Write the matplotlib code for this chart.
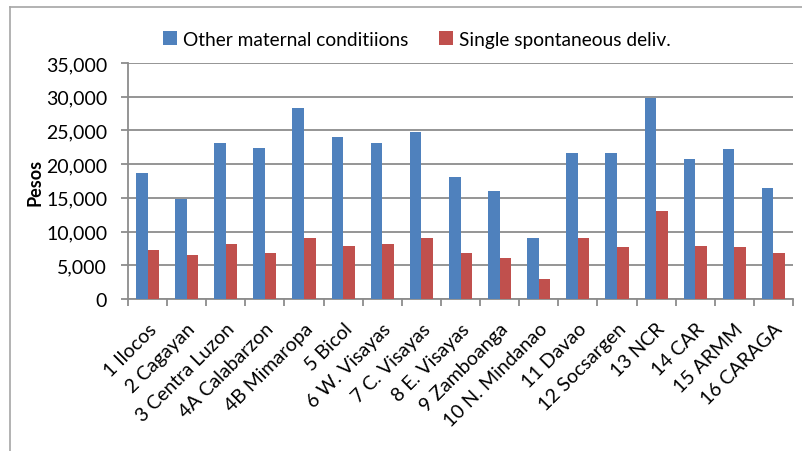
import numpy as np
import matplotlib as mpl
mpl.use('Agg')
import matplotlib.pyplot as plt
import matplotlib.ticker as ticker
from matplotlib.lines import Line2D

regions = ['1 Ilocos', '2 Cagayan', '3 Centra Luzon', '4A Calabarzon', '4B Mimaropa',
           '5 Bicol', '6 W. Visayas', '7 C. Visayas', '8 E. Visayas', '9 Zamboanga',
           '10 N. Mindanao', '11 Davao', '12 Socsargen', '13 NCR', '14 CAR',
           '15 ARMM', '16 CARAGA']
other_maternal = [18700, 14800, 23100, 22400, 28400, 24000, 23100, 24700, 18050,
                  16000, 9050, 21700, 21700, 29800, 20800, 22250, 16400]
single_spont = [7200, 6500, 8100, 6800, 9050, 7900, 8100, 9050, 6800,
                6100, 2900, 9050, 7700, 13000, 7900, 7700, 6800]

plt.rcParams['font.family'] = ['Lato', 'DejaVu Sans']

fig = plt.figure(figsize=(8.02, 4.52), dpi=100)
ax = fig.add_axes([128/802, 1 - 300/452, (793 - 128)/802, (300 - 64)/452])

# outer chart frame (only top/left edges are visible in the crop)
top = 1 - 8/452
left = 10/802
fig.lines.append(Line2D([left, 1.0], [top, top], transform=fig.transFigure,
                        color='#a6a6a6', lw=1.2))
fig.lines.append(Line2D([left, left], [0, top], transform=fig.transFigure,
                        color='#a6a6a6', lw=1.2))

x = np.arange(len(regions))
w = 0.295
ax.bar(x - w/2, other_maternal, w, color='#4f81bd', label='Other maternal conditiions', zorder=3)
ax.bar(x + w/2, single_spont, w, color='#c0504d', label='Single spontaneous deliv.', zorder=3)

ax.set_xlim(-0.5, len(regions) - 0.5)
ax.set_ylim(0, 35000)
ax.yaxis.set_major_locator(ticker.MultipleLocator(5000))
ax.yaxis.set_major_formatter(ticker.FuncFormatter(lambda v, p: '{:,.0f}'.format(v)))
ax.yaxis.grid(True, color='#8c8c8c', lw=1.3, zorder=0)
ax.set_axisbelow(True)

for s in ['top', 'right']:
    ax.spines[s].set_visible(False)
for s in ['left', 'bottom']:
    ax.spines[s].set_color('#8c8c8c')
    ax.spines[s].set_linewidth(1.3)

ax.set_xticks(x)
ax.set_xticklabels(regions, rotation=45, ha='right', rotation_mode='anchor', fontsize=14)
ax.set_xticks(np.arange(len(regions) + 1) - 0.5, minor=True)
ax.tick_params(axis='x', which='major', length=0, pad=15)
ax.tick_params(axis='x', which='minor', length=5, color='#8c8c8c', width=1.3)
ax.tick_params(axis='y', length=5, color='#8c8c8c', width=1.3, labelsize=14, pad=10)

ax.set_ylabel('Pesos', fontsize=13, fontweight='bold', labelpad=2)

ax.legend(loc='lower center', bbox_to_anchor=(0.434, 0.99), ncol=2, frameon=False,
          fontsize=13.8, handlelength=0.75, handleheight=0.75, handletextpad=0.3,
          columnspacing=1.6)

fig.savefig('out.png', dpi=100)
